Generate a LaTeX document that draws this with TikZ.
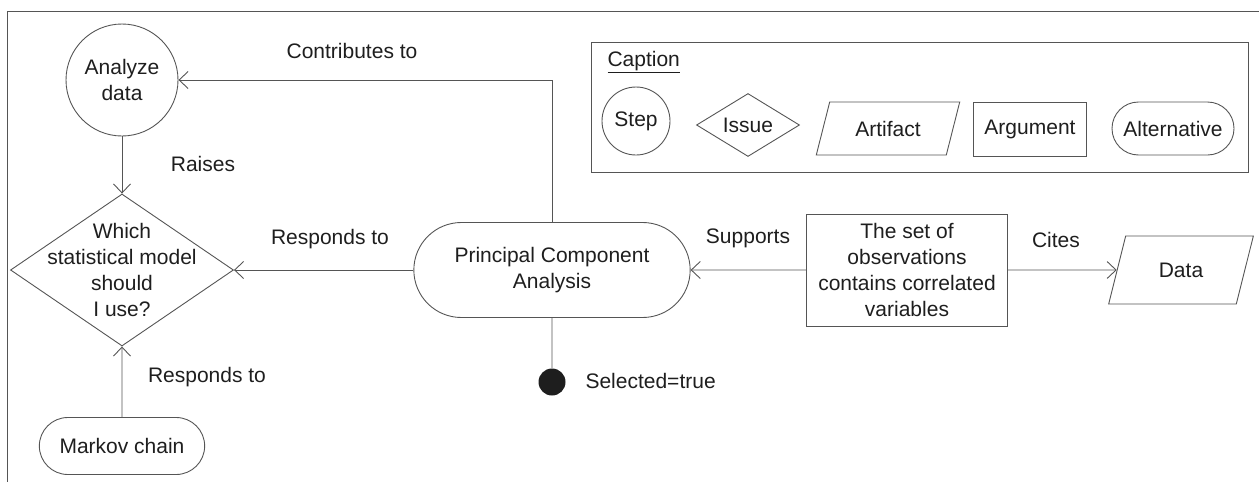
\documentclass[tikz,border=0pt]{standalone}
\usepackage{fontspec}
\setmainfont{Liberation Sans}
\usetikzlibrary{shapes.geometric, shapes.misc, arrows.meta}

\definecolor{linegray}{HTML}{555555}
\definecolor{inkgray}{HTML}{1E1E1E}

\tikzset{
    base/.style={draw=linegray, line width=0.9pt, text=inkgray, align=center, font=\fontsize{21}{26}\selectfont},
    stepnode/.style={base, circle, minimum size=112pt, inner sep=0pt},
    issuenode/.style={base, diamond, minimum width=223pt, minimum height=152pt, inner sep=0pt},
    altnode/.style={base, rounded rectangle, minimum width=283pt, minimum height=95pt},
    argnode/.style={base, rectangle, minimum width=201pt, minimum height=112pt},
    artnode/.style={base, trapezium, trapezium left angle=65, trapezium right angle=115,
        trapezium stretches=true, minimum width=145pt, minimum height=68pt, inner sep=0pt},
    rel/.style={text=inkgray, font=\fontsize{21}{26}\selectfont},
    arr/.style={draw=linegray, line width=0.9pt, -{Straight Barb[length=9pt, width=17pt]}},
}

\begin{document}
\begin{tikzpicture}[x=1pt, y=-1pt]
    \useasboundingbox (0, 0) rectangle (1259, 482);

    % frame
    \draw[draw=linegray, line width=0.9pt] (7, 482) -- (7, 11) -- (1259, 11);

    \node[stepnode] at (122, 80)   (analyze)  {Analyze\\data};
    \node[issuenode, label={[rel, align=center]center:Which\\statistical model\\should\\I use?}]
        at (122, 270) (issue) {};
    \node[altnode, minimum width=172pt, minimum height=57pt] at (122, 446) (markov) {Markov chain};
    \node[altnode] at (552, 270)   (pca)      {Principal Component\\Analysis};
    \node[argnode] at (907, 270)   (argument) {The set of\\observations\\contains correlated\\variables};
    \node[artnode] at (1181, 270)  (data)     {Data};
    \node[circle, fill=inkgray, minimum size=27pt, inner sep=0pt] at (552, 382) (selected) {};

    % relation labels
    \node[rel] at (352, 51)  (lcontrib)  {Contributes to};
    \node[rel] at (203, 164) (lraises)   {Raises};
    \node[rel] at (330, 239) (lresp)     {Responds to};
    \node[rel] at (207, 377) (lrespm)    {Responds to};
    \node[rel] at (748, 238) (lsupports) {Supports};
    \node[rel] at (1056, 240) (lcites)   {Cites};
    \node[rel, anchor=west] at (582, 381) (lselected) {Selected=true};

    \draw[arr] (analyze) -- (issue);
    \draw[arr] (markov) -- (issue);
    \draw[arr] (pca) -- (issue);
    \draw[arr] (pca.north) |- (analyze);
    \draw[arr] (argument) -- (pca);
    \draw[arr] (argument) -- (data);
    \draw[draw=linegray, line width=0.9pt] (pca) -- (selected);

    % caption
    \node[base, minimum width=657pt, minimum height=130pt] at (919.5, 107) (caption) {};
    \node[rel, anchor=west] at (604, 62) (ctitle) {\underline{Caption}};
    \node[stepnode, minimum size=68pt] at (636, 121) (cstep) {Step};
    \node[issuenode, minimum width=103pt, minimum height=63pt,
        label={[rel]center:Issue}] at (748, 125) (cissue) {};
    \node[artnode, trapezium left angle=64, trapezium right angle=116,
        minimum width=144pt, minimum height=53pt] at (888, 128.5) (cartifact) {Artifact};
    \node[argnode, minimum width=113pt, minimum height=54pt, inner sep=0pt] at (1030, 129) (cargument) {Argument};
    \node[altnode, minimum width=124pt, minimum height=53pt, inner sep=1pt] at (1173, 128.5) (calt) {Alternative};
\end{tikzpicture}
\end{document}
